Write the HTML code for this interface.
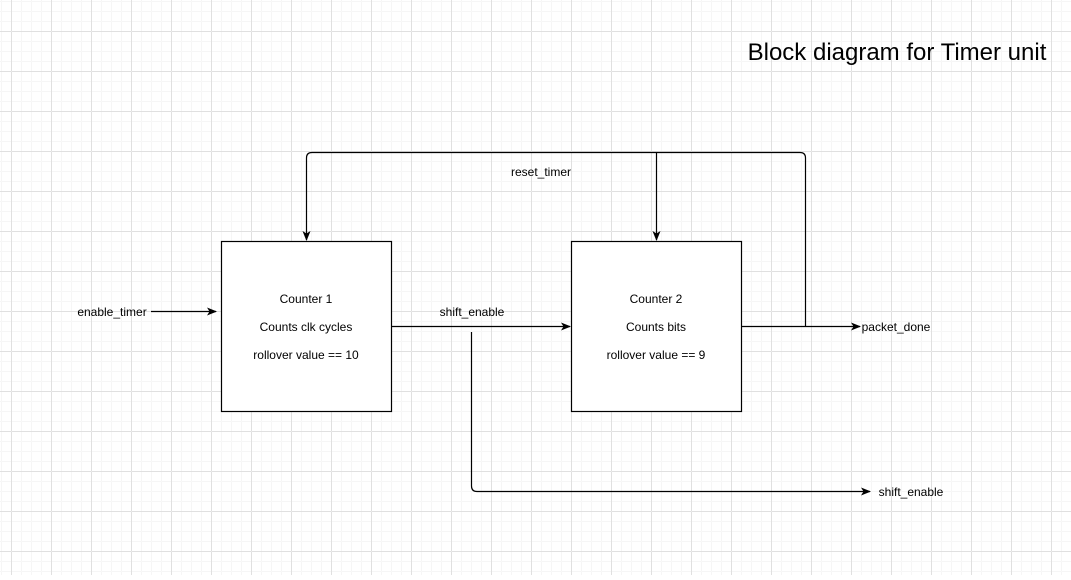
<!DOCTYPE html>
<html><head><style>
body{margin:0;width:1071px;height:575px;overflow:hidden;background:#fff;font-family:"Liberation Sans",Arial,sans-serif;}
</style></head><body>
<svg width="1071" height="575" xmlns="http://www.w3.org/2000/svg">
<defs>
<pattern id="minor" x="1" y="1" width="10" height="10" patternUnits="userSpaceOnUse">
<path d="M0 0H10M0 0V10" stroke="#f6f6f6" stroke-width="1" fill="none" transform="translate(0.5,0.5)"/>
</pattern>
<pattern id="major" x="11" y="31" width="40" height="40" patternUnits="userSpaceOnUse">
<path d="M0 0H40M0 0V40" stroke="#e0e0e0" stroke-width="1" fill="none" transform="translate(0.5,0.5)"/>
</pattern>
<marker id="a" markerWidth="10" markerHeight="8" refX="9" refY="4" orient="auto" markerUnits="userSpaceOnUse">
<path d="M0 0L10 4L0 8L2.5 4Z" fill="#000"/>
</marker>
</defs>
<rect width="1071" height="575" fill="url(#minor)"/>
<rect width="1071" height="575" fill="url(#major)"/>
<g fill="none" stroke="#000" stroke-width="1.2">
<rect x="221.5" y="241.5" width="170" height="170" fill="#fff"/>
<rect x="571.5" y="241.5" width="170" height="170" fill="#fff"/>
<path d="M151 311.5H216" marker-end="url(#a)"/>
<path d="M391 326.5H570" marker-end="url(#a)"/>
<path d="M741 326.5H860" marker-end="url(#a)"/>
<path d="M471.5 332V486Q471.5 491.5 477 491.5H870" marker-end="url(#a)"/>
<path d="M805.5 326V158Q805.5 152.5 800 152.5H312Q306.5 152.5 306.5 158V240" marker-end="url(#a)"/>
<path d="M656.5 152.5V240" marker-end="url(#a)"/>
</g>
<g font-size="12" fill="#000" text-anchor="middle">
<text x="306" y="303">Counter 1</text>
<text x="306" y="331">Counts clk cycles</text>
<text x="306" y="359">rollover value == 10</text>
<text x="656" y="303">Counter 2</text>
<text x="656" y="331">Counts bits</text>
<text x="656" y="359">rollover value == 9</text>
<text x="112" y="316">enable_timer</text>
<text x="472" y="316">shift_enable</text>
<text x="541" y="176">reset_timer</text>
<text x="896" y="331">packet_done</text>
<text x="911" y="496">shift_enable</text>
</g>
<text x="897" y="60" font-size="24" text-anchor="middle" fill="#000">Block diagram for Timer unit</text>
</svg>
</body></html>
